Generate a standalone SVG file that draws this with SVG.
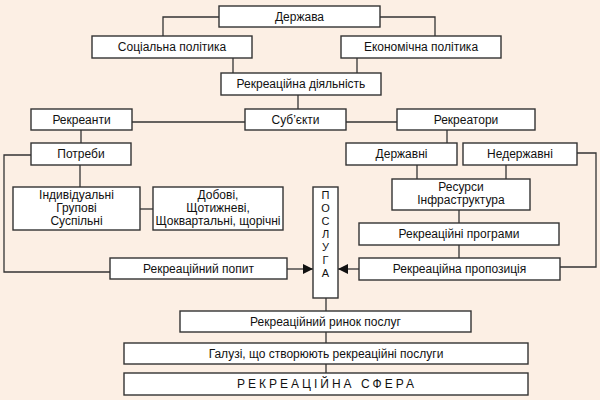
<svg xmlns="http://www.w3.org/2000/svg" width="600" height="400" viewBox="0 0 600 400">
<defs>
<style>
.b{fill:#fff;stroke:#333;stroke-width:1.4}
.t{font-family:"Liberation Sans",Arial,sans-serif;font-size:12px;fill:#111;text-anchor:middle}
.v{font-size:11px}
.c{fill:none;stroke:#333;stroke-width:1.3}
</style>
<marker id="ar" viewBox="0 0 10 10" refX="10" refY="5" markerWidth="10" markerHeight="10" markerUnits="userSpaceOnUse" orient="auto">
<path d="M0,0 L10,5 L0,10 z" fill="#111"/>
</marker>
</defs>
<rect width="600" height="400" fill="#FCEFE4"/>
<g id="connectors">
<path class="c" d="M219,17 H163 V36"/>
<path class="c" d="M380,17 H435 V36"/>
<path class="c" d="M233,58 V73"/>
<path class="c" d="M357,58 V73"/>
<path class="c" d="M298,95 V109"/>
<path class="c" d="M132,122 H245"/>
<path class="c" d="M346,122 H397"/>
<path class="c" d="M81,130 V143"/>
<path class="c" d="M447,130 V143"/>
<path class="c" d="M80,165 V187"/>
<path class="c" d="M140,209 H153"/>
<path class="c" d="M31,155 H4 V272 H110"/>
<path class="c" d="M577,153 H596 V267 H560"/>
<path class="c" d="M417,165 V179"/>
<path class="c" d="M506,165 V179"/>
<path class="c" d="M459,210 V223"/>
<path class="c" d="M459,245 V258"/>
<path class="c" d="M287,269 H313" marker-end="url(#ar)"/>
<path class="c" d="M359,269 H338" marker-end="url(#ar)"/>
<path class="c" d="M326,298 V311"/>
<path class="c" d="M326,332 V343"/>
<path class="c" d="M326,364 V373"/>
</g>
<g id="derzhava"><rect class="b" x="219" y="6" width="161" height="21"/><text class="t" x="299.5" y="21">Держава</text></g>
<g id="social"><rect class="b" x="92" y="36" width="160" height="22"/><text class="t" x="172" y="51">Соціальна політика</text></g>
<g id="economic"><rect class="b" x="341" y="36" width="160" height="22"/><text class="t" x="421" y="51">Економічна політика</text></g>
<g id="diyalnist"><rect class="b" x="221" y="73" width="160" height="22"/><text class="t" x="301" y="88">Рекреаційна діяльність</text></g>
<g id="subjekty"><rect class="b" x="245" y="109" width="101" height="21"/><text class="t" x="295.5" y="124">Суб’єкти</text></g>
<g id="rekreanty"><rect class="b" x="31" y="109" width="101" height="21"/><text class="t" x="81.5" y="124">Рекреанти</text></g>
<g id="rekreatory"><rect class="b" x="397" y="109" width="138" height="21"/><text class="t" x="466" y="124">Рекреатори</text></g>
<g id="potreby"><rect class="b" x="31" y="143" width="100" height="22"/><text class="t" x="81" y="158">Потреби</text></g>
<g id="derzhavni"><rect class="b" x="346" y="143" width="111" height="22"/><text class="t" x="401.5" y="158">Державні</text></g>
<g id="nederzhavni"><rect class="b" x="463" y="143" width="114" height="22"/><text class="t" x="520" y="158">Недержавні</text></g>
<g id="individualni"><rect class="b" x="13" y="187" width="127" height="43"/><text class="t" x="76.5" y="199">Індивідуальні</text><text class="t" x="76.5" y="212">Групові</text><text class="t" x="76.5" y="225">Суспільні</text></g>
<g id="dobovi"><rect class="b" x="153" y="187" width="130" height="43"/><text class="t" x="218" y="199">Добові,</text><text class="t" x="218" y="212">Щотижневі,</text><text class="t" x="218" y="225">Щоквартальні, щорічні</text></g>
<g id="resursy"><rect class="b" x="392" y="179" width="138" height="31"/><text class="t" x="461" y="191">Ресурси</text><text class="t" x="461" y="204">Інфраструктура</text></g>
<g id="programy"><rect class="b" x="359" y="223" width="200" height="22"/><text class="t" x="459" y="238">Рекреаційні програми</text></g>
<g id="propozytsiya"><rect class="b" x="359" y="258" width="201" height="22"/><text class="t" x="459.5" y="273">Рекреаційна пропозиція</text></g>
<g id="popyt"><rect class="b" x="110" y="258" width="177" height="21"/><text class="t" x="198.5" y="273">Рекреаційний попит</text></g>
<g id="posluha"><rect class="b" x="313" y="187" width="25" height="111"/>
<text class="t v" x="325.5" y="199">П</text><text class="t v" x="325.5" y="212">О</text><text class="t v" x="325.5" y="225">С</text><text class="t v" x="325.5" y="238">Л</text><text class="t v" x="325.5" y="251">У</text><text class="t v" x="325.5" y="264">Г</text><text class="t v" x="325.5" y="277">А</text></g>
<g id="rynok"><rect class="b" x="180" y="311" width="291" height="21"/><text class="t" x="325.5" y="326">Рекреаційний ринок послуг</text></g>
<g id="haluzi"><rect class="b" x="124" y="343" width="404" height="21"/><text class="t" x="326" y="358">Галузі, що створюють рекреаційні послуги</text></g>
<g id="sfera"><rect class="b" x="124" y="373" width="404" height="22"/><text class="t" x="327" y="388" style="letter-spacing:3px">РЕКРЕАЦІЙНА СФЕРА</text></g>
</svg>
